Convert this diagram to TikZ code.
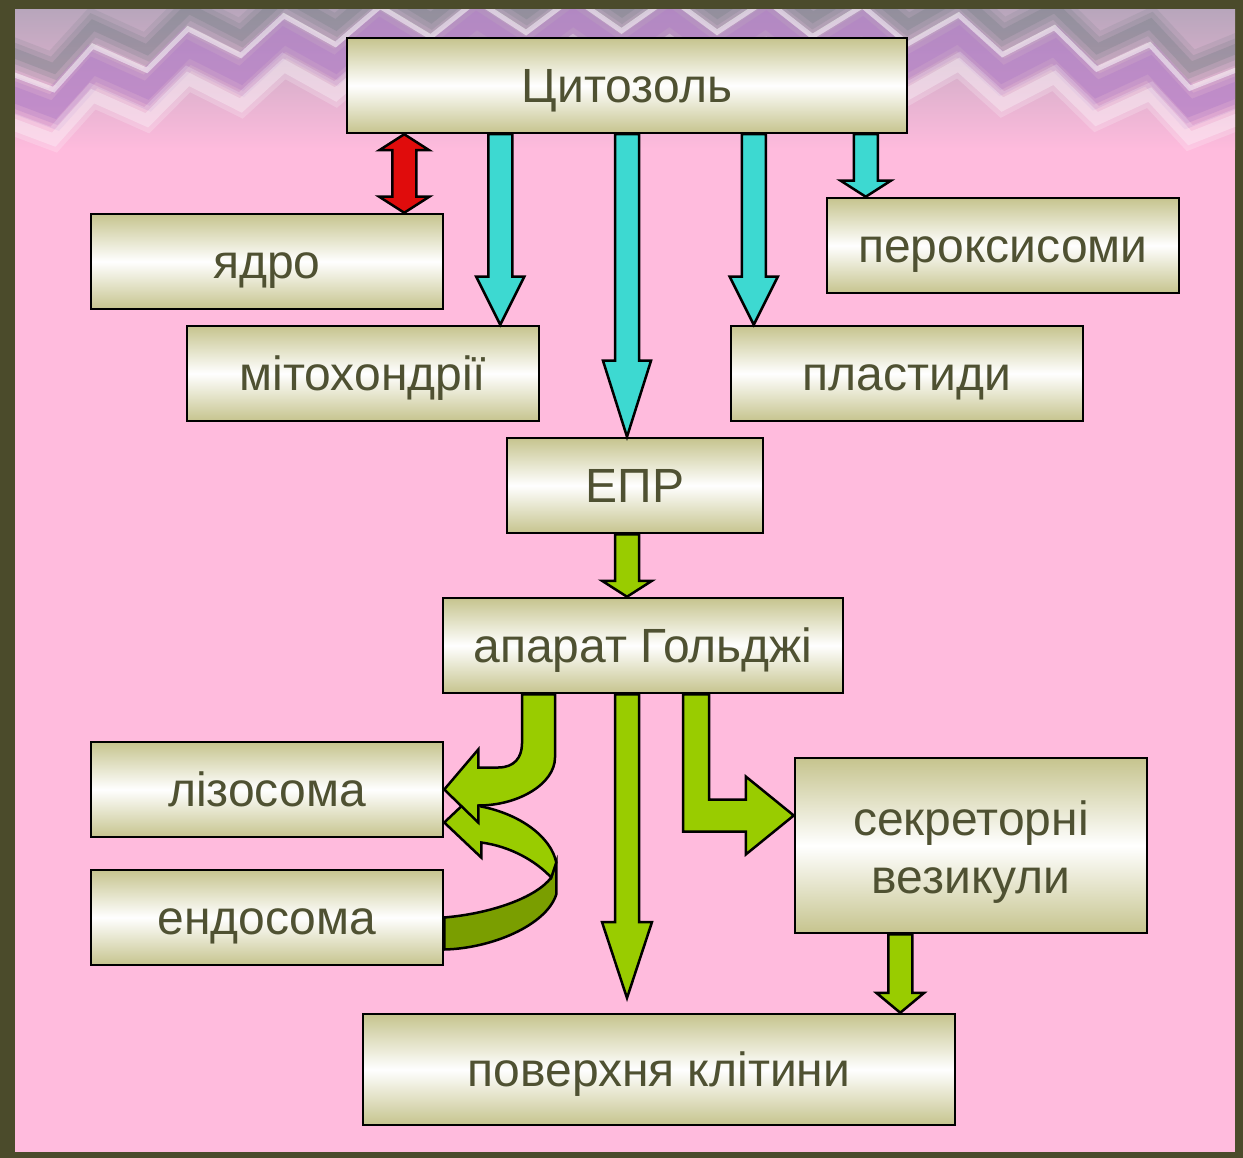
\documentclass[tikz,border=0pt]{standalone}
\usepackage{fontspec}
\setmainfont{Liberation Sans}
\usepackage{xcolor}
\usetikzlibrary{calc,decorations.pathmorphing}
\definecolor{frameolive}{HTML}{4B4B2B}
\definecolor{slidepink}{HTML}{FFBBDD}
\definecolor{boxkhaki}{HTML}{C6C48E}
\definecolor{textolive}{HTML}{4F5132}
\definecolor{cyanarrow}{HTML}{3DD9D1}
\definecolor{greenarrow}{HTML}{99CC00}
\definecolor{darkgreen}{HTML}{7A9E00}
\definecolor{redarrow}{HTML}{E00C0C}
\definecolor{patgray}{HTML}{B8A6BC}
\definecolor{patdark}{HTML}{6E7A80}
\definecolor{patviolet}{HTML}{B07CC6}
% fill, from, tip, half shaft, half head, head length
\newcommand\downblock[6]{\path[blockarrow, fill=#1] let \p1=#2, \p2=#3 in
  (\x2-#4pt,\y1) -- (\x2-#4pt,\y2+#6pt) -- (\x2-#5pt,\y2+#6pt) -- (\x2,\y2)
  -- (\x2+#5pt,\y2+#6pt) -- (\x2+#4pt,\y2+#6pt) -- (\x2+#4pt,\y1) -- cycle;}

\begin{document}
\begin{tikzpicture}[x=1pt, y=-1pt,
  organelle/.style={draw, line width=2.5pt, top color=boxkhaki, bottom color=boxkhaki, middle color=white,
    minimum width=352pt, minimum height=95pt, inner sep=0pt, text=textolive,
    font=\fontsize{48}{58}\selectfont, text height=44pt, text depth=10pt},
  blockarrow/.style={draw, line width=2.5pt, line join=miter},
  zigband/.style={decorate, decoration={zigzag, segment length=96pt, amplitude=17pt}}] %protein routes
\useasboundingbox (0,0) rectangle (1243,1158);
\fill[frameolive] (0,0) rectangle (1243,1158);
\fill[slidepink] (15,10) rectangle (1235,1152);
\begin{scope}
\clip (15,10) rectangle (1235,170);
\shade[top color=patgray, bottom color=slidepink] (15,10) rectangle (1235,150);
\foreach \w/\o in {30/0.15, 20/0.2, 10/0.25}
  \draw[zigband, line width=\w pt, patdark, opacity=\o] (-20,70) .. controls (330,-30) and (920,-30) .. (1270,70);
\foreach \w/\o in {36/0.25, 26/0.3, 16/0.4}
  \draw[zigband, line width=\w pt, patviolet, opacity=\o] (-20,112) .. controls (330,8) and (920,8) .. (1270,112);
\draw[zigband, line width=5pt, white, opacity=0.5] (-20,92) .. controls (330,-12) and (920,-12) .. (1270,92);
\foreach \w/\o in {22/0.2, 12/0.3}
  \draw[zigband, line width=\w pt, white, opacity=\o] (-20,142) .. controls (330,38) and (920,38) .. (1270,142);
\end{scope}

\node[organelle, minimum width=560pt] (cyto) at (627,85.5) {Цитозоль};
\node[organelle] (yadro) at (267,261.5) {ядро};
\node[organelle] (perox) at (1003,245.5) {пероксисоми};
\node[organelle] (mito) at (363,373.5) {мітохондрії};
\node[organelle] (plast) at (907,373.5) {пластиди};
\node[organelle, minimum width=256pt] (epr) at (635,485.5) {ЕПР};
\node[organelle, minimum width=400pt] (golgi) at (643,645.5) {апарат Гольджі};
\node[organelle] (lizo) at (267,789.5) {лізосома};
\node[organelle] (endo) at (267,917.5) {ендосома};
\node[organelle, minimum height=175pt, align=center, text height={}, text depth={}] (sekr) at (971,845.5) {\rule{0pt}{48pt}секреторні\\везикули};
\node[organelle, minimum width=592pt, minimum height=111pt] (surface) at (659,1069.5) {поверхня клітини};
\coordinate (surfacetip) at (627,998);

\path[blockarrow, fill=redarrow] let \p1=(cyto.south), \p2=([xshift=-40pt]yadro.north east) in
  (\x2,\y1) -- (\x2+25pt,\y1-16pt) -- (\x2+12pt,\y1-16pt) -- (\x2+12pt,\y2+16pt) -- (\x2+25pt,\y2+16pt)
  -- (\x2,\y2) -- (\x2-25pt,\y2+16pt) -- (\x2-12pt,\y2+16pt) -- (\x2-12pt,\y1-16pt) -- (\x2-25pt,\y1-16pt) -- cycle;
\downblock{cyanarrow}{(cyto.south)}{([xshift=-40pt]mito.north east)}{12}{24}{48}
\downblock{cyanarrow}{(cyto.south)}{(cyto.south |- epr.north)}{12}{24}{76}
\downblock{cyanarrow}{(cyto.south)}{([xshift=24pt]plast.north west)}{12}{24}{48}
\downblock{cyanarrow}{(cyto.south)}{([xshift=40pt]perox.north west)}{12}{25}{16}
\downblock{greenarrow}{(epr.south)}{(cyto.south |- golgi.north)}{12}{25}{16}
\downblock{greenarrow}{(golgi.south)}{(surfacetip)}{12}{25}{76}
\downblock{greenarrow}{(sekr.south)}{([xshift=-56pt]surface.north east)}{12}{24}{20}
\path[blockarrow, fill=greenarrow] let \p1=(golgi.south), \p2=([yshift=30pt]sekr.west) in
  (\x1+40pt,\y1) -- (\x1+40pt,\y2-16pt) -- (\x2-48pt,\y2-16pt) -- (\x2-48pt,\y2-39pt) -- (\x2,\y2)
  -- (\x2-48pt,\y2+39pt) -- (\x2-48pt,\y2+16pt) -- (\x1+66pt,\y2+16pt) -- (\x1+66pt,\y1) -- cycle;
% endosome ribbon under the golgi bend
\path[blockarrow, fill=darkgreen] let \p1=(endo.east) in
  (\x1,\y1) .. controls (\x1+47pt,\y1+4pt) and (\x1+92pt,\y1+20pt) .. (\x1+107pt,\y1+40pt) -- (\x1+112pt,\y1+55pt)
  -- (\x1+112pt,\y1+23pt) .. controls (\x1+102pt,\y1-8pt) and (\x1+47pt,\y1-31pt) .. (\x1,\y1-32pt) -- cycle;
\path[blockarrow, fill=greenarrow] let \p1=(endo.east), \p2=([yshift=-33pt]lizo.east) in
  (\x2+37pt,\y2+16pt) .. controls (\x2+77pt,\y2+8pt) and (\x1+107pt,\y1+80pt) .. (\x1+112pt,\y1+55pt)
  -- (\x1+107pt,\y1+40pt) .. controls (\x1+92pt,\y1+56pt) and (\x2+67pt,\y2-24pt) .. (\x2+37pt,\y2-20pt)
  -- (\x2+37pt,\y2-35pt) -- (\x2,\y2) -- (\x2+37pt,\y2+35pt) -- cycle;
\path[blockarrow, fill=greenarrow] let \p1=(golgi.south), \p2=(lizo.east) in
  (\x1-88pt,\y1) -- (\x1-88pt,\y2+32pt) .. controls (\x1-88pt,\y2+6pt) and (\x1-124pt,\y2-16pt) .. (\x2+34pt,\y2-16pt)
  -- (\x2+34pt,\y2-33pt) -- (\x2,\y2) -- (\x2+34pt,\y2+40pt) -- (\x2+34pt,\y2+22pt)
  -- (\x2+54pt,\y2+22pt) .. controls (\x2+70pt,\y2+22pt) and (\x1-121pt,\y2+32pt) .. (\x1-121pt,\y2+46pt) -- (\x1-121pt,\y1) -- cycle;
\end{tikzpicture}
\end{document}
